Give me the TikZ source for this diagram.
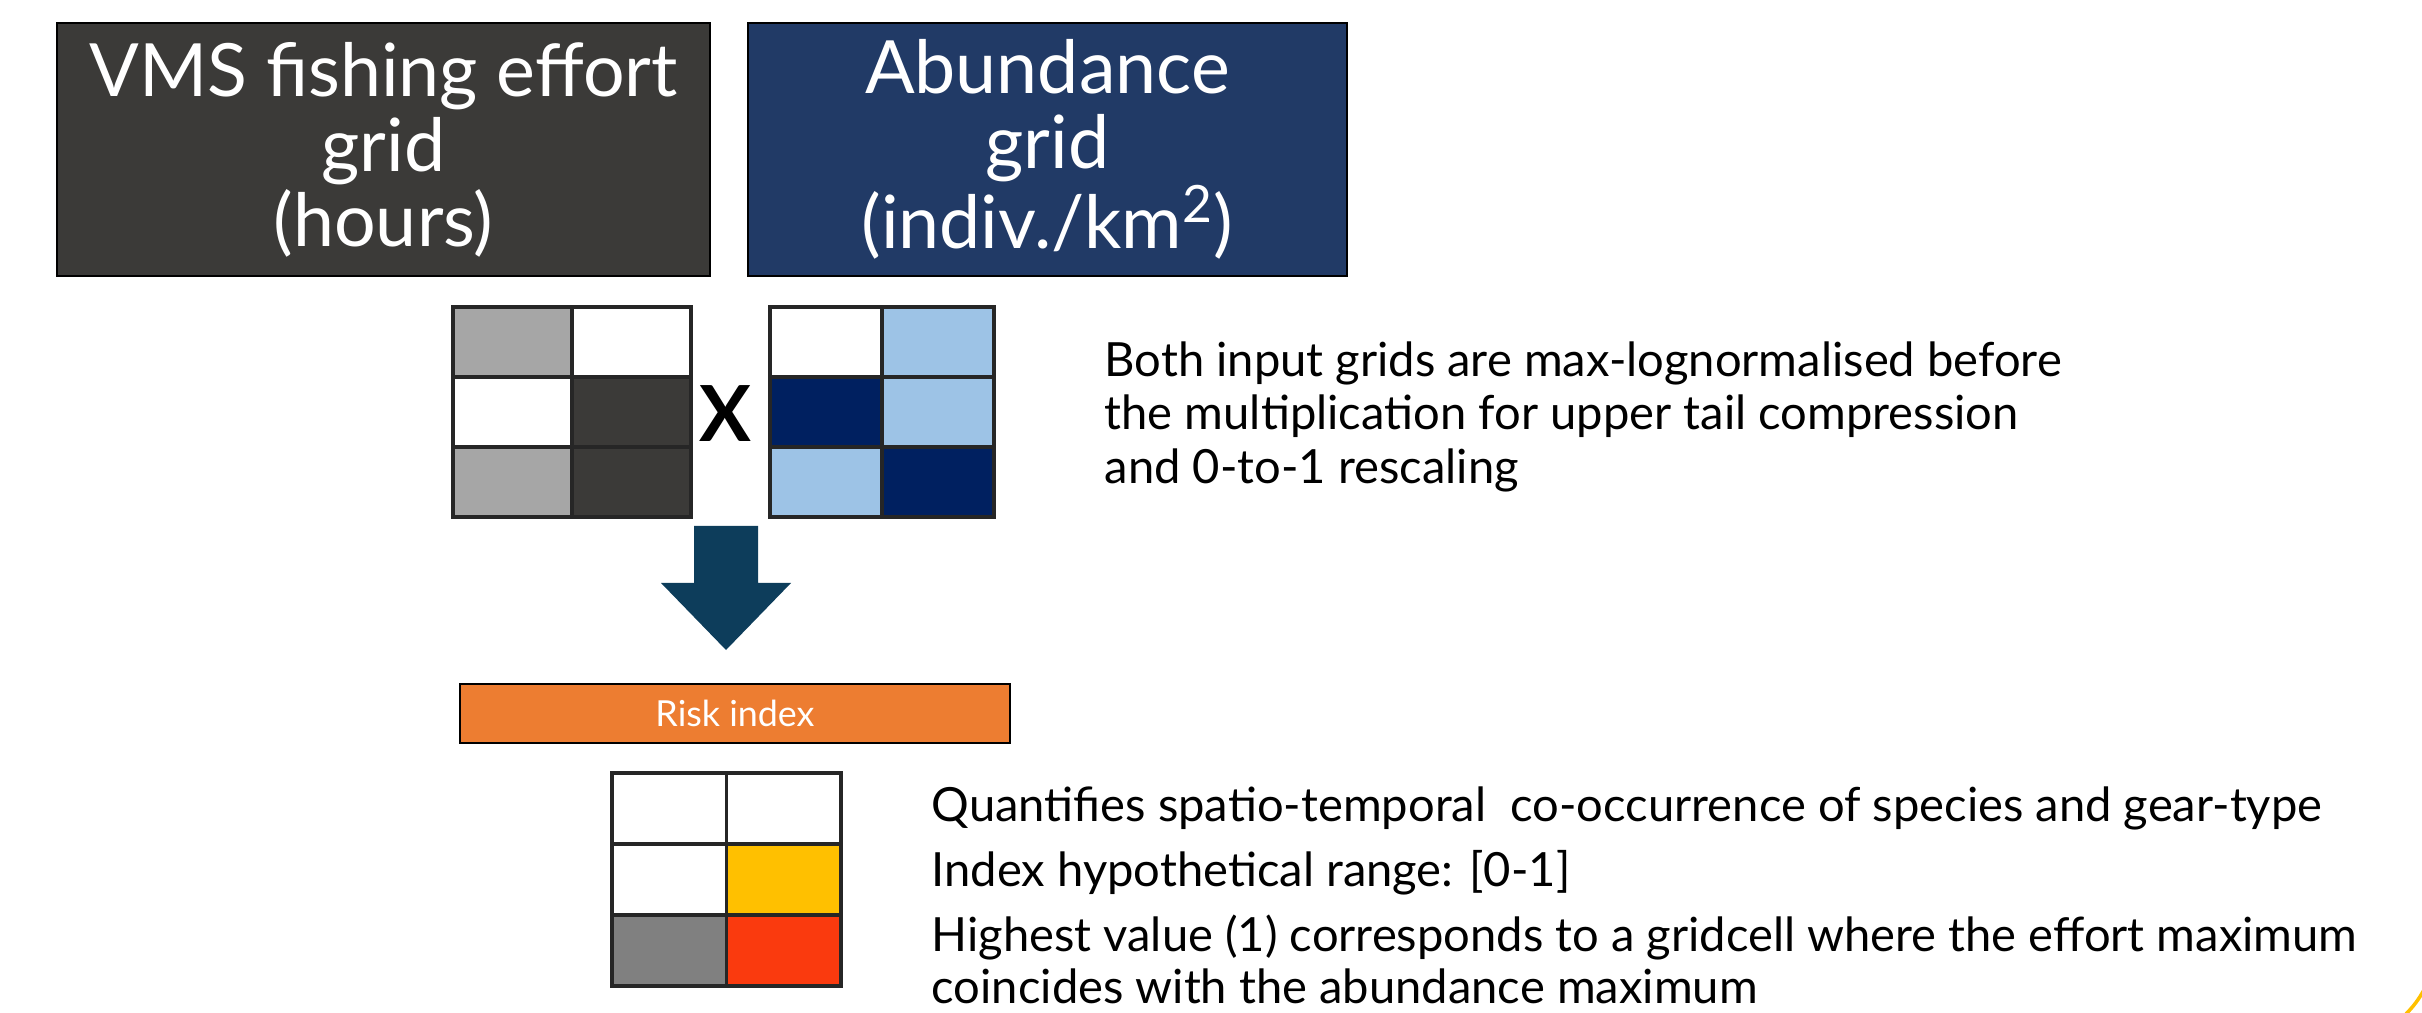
\documentclass[tikz,border=0pt]{standalone}
\usepackage{fontspec}
\setmainfont{Lato}
\usetikzlibrary{positioning}
\definecolor{effort}{HTML}{3B3A38}
\definecolor{abund}{HTML}{213A66}
\definecolor{effgray}{HTML}{A6A6A6}
\definecolor{abnavy}{HTML}{002060}
\definecolor{ablight}{HTML}{9DC3E6}
\definecolor{riskorange}{HTML}{ED7D31}
\definecolor{riskyellow}{HTML}{FFC000}
\definecolor{riskred}{HTML}{FA3A0E}
\definecolor{riskgray}{HTML}{808080}
\definecolor{flow}{HTML}{0D3D5B}
\tikzset{
  head/.style={draw=black, line width=0.6pt, text=white, align=center, minimum width=6.53cm, minimum height=2.53cm, inner sep=0pt, font=\fontsize{20.9}{21.3}\selectfont},
  cell/.style={draw=black!85, line width=1.1pt, inner sep=0pt, anchor=north west, minimum height=0.70cm},
  note/.style={anchor=north west, align=left, inner sep=0pt, font=\fontsize{13.4}{15.2}\selectfont}}
\begin{document}
\begin{tikzpicture}[x=0.01cm, y=-0.01cm]
\useasboundingbox (0,0) rectangle (2422,1013);
\node[head, fill=effort] (effort) at (383.5,149.5) {VMS fishing effort\\grid\\(hours)};
\node[head, fill=abund, minimum width=5.99cm] (abund) at (1047.5,149.5) {Abundance\\grid\\(indiv./km\textsuperscript{2})};
\foreach \c/\r/\col in {0/0/effgray,1/0/white,0/1/white,1/1/effort,0/2/effgray,1/2/effort}
  \node[cell, minimum width=1.19cm, fill=\col] (eff-\c-\r) at ({451+119*\c},{305+70*\r}) {};
\foreach \c/\r/\col in {0/0/white,1/0/ablight,0/1/abnavy,1/1/ablight,0/2/ablight,1/2/abnavy}
  \node[cell, minimum width=1.12cm, fill=\col] (ab-\c-\r) at ({768+112*\c},{305+70*\r}) {};
\node[font=\fontsize{22}{22}\selectfont\bfseries, inner sep=0pt] (times) at (725,414) {X};
\fill[flow] (694,526) -- (758,526) -- (758,583) -- (791,583) -- (726,650) -- (661,583) -- (694,583) -- cycle;
\node[draw=black, line width=0.6pt, fill=riskorange, text=white, minimum width=5.50cm, minimum height=0.59cm, inner sep=0pt, font=\fontsize{10.2}{11}\selectfont] (risk) at (735,713.5) {Risk index};
\foreach \c/\r/\col in {0/0/white,1/0/white,0/1/white,1/1/riskyellow,0/2/riskgray,1/2/riskred}
  \node[cell, minimum width=1.145cm, minimum height=0.71cm, fill=\col] (rk-\c-\r) at ({610+114.5*\c},{771+71*\r}) {};
\node[note] (inputs) at (1104,341) {Both input grids are max-lognormalised before\\the multiplication for upper tail compression\\and 0-to-1 rescaling};
\node[note, font=\fontsize{13.4}{14.8}\selectfont] (about) at (931,786) {Quantifies spatio-temporal~ co-occurrence of species and gear-type\\[0.13cm]Index hypothetical range: [0-1]\\[0.13cm]Highest value (1) corresponds to a gridcell where the effort maximum\\coincides with the abundance maximum};
\draw[riskyellow, line width=1pt] (2404,1016) to[bend right=8] (2425,988);
\end{tikzpicture}
\end{document}
